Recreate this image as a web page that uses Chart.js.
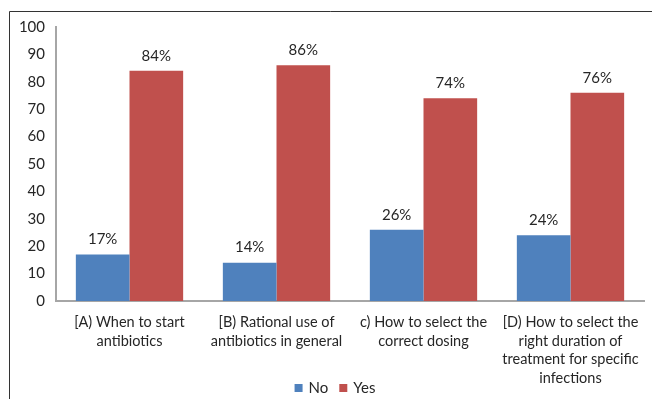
<!DOCTYPE html>
<html>
<head>
<meta charset="utf-8">
<script src="https://cdn.jsdelivr.net/npm/chart.js@4/dist/chart.umd.min.js"></script>
<style>
  html, body { margin: 0; padding: 0; background: #fff; }
  #wrap { position: relative; width: 652px; height: 399px; }
</style>
</head>
<body>
<div id="wrap"><canvas id="chart" width="652" height="399"></canvas></div>
<script>
// 質問ごとの回答割合（%）
const categories = [
    ['[A) When to start', 'antibiotics'],
    ['[B) Rational use of', 'antibiotics in general'],
    ['c) How to select the', 'correct dosing'],
    ['[D) How to select the', 'right duration of', 'treatment for specific', 'infections']
];
const noValues = [17, 14, 26, 24];
const yesValues = [84, 86, 74, 76];
const yTicks = [0, 10, 20, 30, 40, 50, 60, 70, 80, 90, 100];

const FONT = 'Lato, "Open Sans", sans-serif';
const TEXT = '#262626';

// 左と上の枠線
const framePlugin = {
    id: 'framePlugin',
    beforeDraw(chart) {
        const ctx = chart.ctx;
        ctx.save();
        ctx.strokeStyle = '#333';
        ctx.lineWidth = 1;
        ctx.beginPath();
        ctx.moveTo(9.5, chart.height);
        ctx.lineTo(9.5, 11.5);
        ctx.lineTo(chart.width, 11.5);
        ctx.stroke();
        ctx.restore();
    }
};

// 棒の上に%を表示
const valueLabelPlugin = {
    id: 'valueLabelPlugin',
    afterDatasetsDraw(chart) {
        const ctx = chart.ctx;
        ctx.save();
        ctx.fillStyle = TEXT;
        ctx.font = '15px ' + FONT;
        ctx.textAlign = 'center';
        ctx.textBaseline = 'middle';
        chart.data.datasets.forEach((ds, i) => {
            chart.getDatasetMeta(i).data.forEach((bar, j) => {
                ctx.fillText(ds.data[j] + '%', bar.x, bar.y - 15);
            });
        });
        ctx.restore();
    }
};

// 凡例（x軸ラベルと重なる位置に置くため自前で描く）
const bottomLegendPlugin = {
    id: 'bottomLegendPlugin',
    afterDraw(chart) {
        const ctx = chart.ctx;
        const y = 388;
        const box = 8;
        const gap = 6;
        const itemGap = 11;
        ctx.save();
        ctx.font = '15px ' + FONT;
        ctx.textBaseline = 'middle';
        const items = chart.data.datasets.map(ds => ({
            text: ds.label,
            color: ds.backgroundColor,
            w: box + gap + ctx.measureText(ds.label).width
        }));
        const total = items.reduce((s, it) => s + it.w, 0) + itemGap * (items.length - 1);
        let x = (chart.width - total) / 2 + 9;
        items.forEach(it => {
            ctx.fillStyle = it.color;
            ctx.fillRect(x, y - box / 2, box, box);
            ctx.fillStyle = TEXT;
            ctx.fillText(it.text, x + box + gap, y);
            x += it.w + itemGap;
        });
        ctx.restore();
    }
};

new Chart(document.getElementById('chart'), {
    type: 'bar',
    data: {
        labels: categories,
        datasets: [{
            label: 'No',
            data: noValues,
            backgroundColor: '#4F81BD'
        }, {
            label: 'Yes',
            data: yesValues,
            backgroundColor: '#C0504D'
        }]
    },
    options: {
        responsive: false,
        animation: false,
        datasets: {
            bar: { categoryPercentage: 0.73, barPercentage: 1.0 }
        },
        layout: { padding: { top: 27, right: 8, left: 0, bottom: 0 } },
        plugins: {
            legend: { display: false },
            tooltip: { enabled: false }
        },
        scales: {
            x: {
                grid: { display: false, drawTicks: false },
                border: { color: '#A6A6A6', width: 2 },
                ticks: {
                    color: TEXT,
                    padding: 12,
                    maxRotation: 0,
                    autoSkip: false,
                    font: { family: FONT, size: 14.5, lineHeight: 1.28 }
                },
                afterFit(scale) { scale.height = 98; }
            },
            y: {
                min: 0,
                max: 100,
                afterBuildTicks(scale) {
                    scale.ticks = yTicks.map(v => ({ value: v }));
                },
                grid: { display: false, drawTicks: false },
                border: { color: '#A6A6A6', width: 2 },
                ticks: {
                    color: TEXT,
                    padding: 11,
                    font: { family: FONT, size: 15 }
                },
                afterFit(scale) { scale.width = 56; }
            }
        }
    },
    plugins: [framePlugin, valueLabelPlugin, bottomLegendPlugin]
});
</script>
</body>
</html>
